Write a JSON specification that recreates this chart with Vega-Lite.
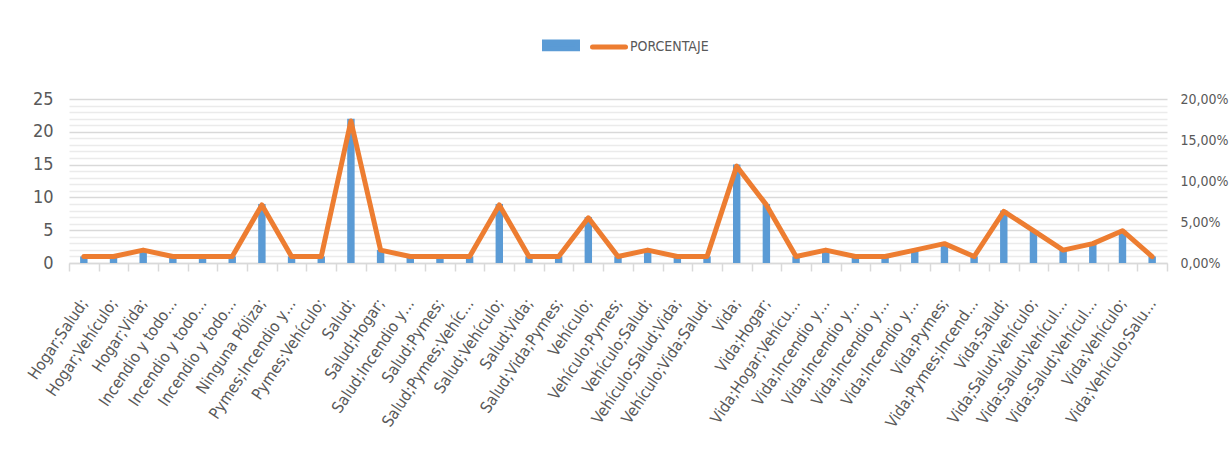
{
  "$schema": "https://vega.github.io/schema/vega-lite/v6.json",
  "width": 1098,
  "height": 164,
  "autosize": {"type": "none"},
  "padding": {"left": 69, "top": 99, "right": 63, "bottom": 190},
  "background": "white",
  "config": {
    "font": "'Liberation Sans Narrow', 'DejaVu Sans Condensed', Roboto, sans-serif",
    "view": {"stroke": null},
    "axis": {"labelFont": "'Liberation Sans Narrow', 'DejaVu Sans Condensed', Roboto, sans-serif", "labelColor": "#595959", "title": null}
  },
  "data": {
    "values": [
      {"categoria": "Hogar;Salud;", "cantidad": 1, "porcentaje": 0.00787},
      {"categoria": "Hogar;Vehículo;", "cantidad": 1, "porcentaje": 0.00787},
      {"categoria": "Hogar;Vida;", "cantidad": 2, "porcentaje": 0.01575},
      {"categoria": "Incendio y todo…", "cantidad": 1, "porcentaje": 0.00787},
      {"categoria": "Incendio y todo…\u200b", "cantidad": 1, "porcentaje": 0.00787},
      {"categoria": "Incendio y todo…\u200b\u200b", "cantidad": 1, "porcentaje": 0.00787},
      {"categoria": "Ninguna Póliza;", "cantidad": 9, "porcentaje": 0.07087},
      {"categoria": "Pymes;Incendio y…", "cantidad": 1, "porcentaje": 0.00787},
      {"categoria": "Pymes;Vehículo;", "cantidad": 1, "porcentaje": 0.00787},
      {"categoria": "Salud;", "cantidad": 22, "porcentaje": 0.17323},
      {"categoria": "Salud;Hogar;", "cantidad": 2, "porcentaje": 0.01575},
      {"categoria": "Salud;Incendio y…", "cantidad": 1, "porcentaje": 0.00787},
      {"categoria": "Salud;Pymes;", "cantidad": 1, "porcentaje": 0.00787},
      {"categoria": "Salud;Pymes;Vehíc…", "cantidad": 1, "porcentaje": 0.00787},
      {"categoria": "Salud;Vehículo;", "cantidad": 9, "porcentaje": 0.07087},
      {"categoria": "Salud;Vida;", "cantidad": 1, "porcentaje": 0.00787},
      {"categoria": "Salud;Vida;Pymes;", "cantidad": 1, "porcentaje": 0.00787},
      {"categoria": "Vehículo;", "cantidad": 7, "porcentaje": 0.05512},
      {"categoria": "Vehículo;Pymes;", "cantidad": 1, "porcentaje": 0.00787},
      {"categoria": "Vehículo;Salud;", "cantidad": 2, "porcentaje": 0.01575},
      {"categoria": "Vehículo;Salud;Vida;", "cantidad": 1, "porcentaje": 0.00787},
      {"categoria": "Vehículo;Vida;Salud;", "cantidad": 1, "porcentaje": 0.00787},
      {"categoria": "Vida;", "cantidad": 15, "porcentaje": 0.11811},
      {"categoria": "Vida;Hogar;", "cantidad": 9, "porcentaje": 0.07087},
      {"categoria": "Vida;Hogar;Vehícu…", "cantidad": 1, "porcentaje": 0.00787},
      {"categoria": "Vida;Incendio y…", "cantidad": 2, "porcentaje": 0.01575},
      {"categoria": "Vida;Incendio y…\u200b", "cantidad": 1, "porcentaje": 0.00787},
      {"categoria": "Vida;Incendio y…\u200b\u200b", "cantidad": 1, "porcentaje": 0.00787},
      {"categoria": "Vida;Incendio y…\u200b\u200b\u200b", "cantidad": 2, "porcentaje": 0.01575},
      {"categoria": "Vida;Pymes;", "cantidad": 3, "porcentaje": 0.02362},
      {"categoria": "Vida;Pymes;Incend…", "cantidad": 1, "porcentaje": 0.00787},
      {"categoria": "Vida;Salud;", "cantidad": 8, "porcentaje": 0.06299},
      {"categoria": "Vida;Salud;Vehículo;", "cantidad": 5, "porcentaje": 0.03937},
      {"categoria": "Vida;Salud;Vehícul…", "cantidad": 2, "porcentaje": 0.01575},
      {"categoria": "Vida;Salud;Vehícul…\u200b", "cantidad": 3, "porcentaje": 0.02362},
      {"categoria": "Vida;Vehículo;", "cantidad": 5, "porcentaje": 0.03937},
      {"categoria": "Vida;Vehículo;Salu…", "cantidad": 1, "porcentaje": 0.00787}
    ]
  },
  "encoding": {
    "x": {
      "field": "categoria",
      "type": "nominal",
      "sort": null,
      "scale": {"paddingInner": 0, "paddingOuter": 0},
      "axis": {
        "labelAngle": -56,
        "labelAlign": "right",
        "labelBaseline": "middle",
        "labelFontSize": 16,
        "labelPadding": 29,
        "labelLimit": 400,
        "labelOverlap": false,
        "domainColor": "#d9d9d9",
        "domainWidth": 1.5,
        "tickColor": "#d9d9d9",
        "tickWidth": 1.5,
        "tickSize": 8,
        "tickBand": "extent",
        "grid": false
      }
    }
  },
  "layer": [
    {
      "mark": {"type": "bar", "width": {"band": 0.25}},
      "encoding": {
        "y": {
          "field": "cantidad",
          "type": "quantitative",
          "scale": {"domain": [0, 25], "nice": false},
          "axis": {
            "orient": "left",
            "values": [0, 1, 2, 3, 4, 5, 6, 7, 8, 9, 10, 11, 12, 13, 14, 15, 16, 17, 18, 19, 20, 21, 22, 23, 24, 25],
            "labelExpr": "datum.value % 5 === 0 ? datum.label : ''",
            "labelOverlap": false,
            "labelFontSize": 18,
            "labelPadding": 16,
            "domain": false,
            "ticks": false,
            "grid": true,
            "gridWidth": 1.5,
            "gridColor": {"condition": {"test": "datum.value % 5 === 0", "value": "#d9d9d9"}, "value": "#ebebeb"}
          }
        },
        "color": {
          "datum": " ",
          "scale": {"domain": [" ", "PORCENTAJE"], "range": ["#5b9bd5", "#ed7d31"]},
          "legend": {
            "orient": "none",
            "legendX": 473,
            "legendY": -73,
            "direction": "horizontal",
            "title": null,
            "labelFontSize": 14,
            "labelColor": "#595959",
            "labelFont": "'Liberation Sans Narrow', 'DejaVu Sans Condensed', Roboto, sans-serif",
            "symbolSize": 1089,
            "labelOffset": 2,
            "columnPadding": -6,
            "encode": {
              "symbols": {
                "update": {
                  "shape": {"signal": "datum.value === 'PORCENTAJE' ? 'stroke' : 'M-1,-0.2H1V0.2H-1Z'"},
                  "fill": {"signal": "datum.value === 'PORCENTAJE' ? 'transparent' : '#5b9bd5'"},
                  "stroke": {"signal": "datum.value === 'PORCENTAJE' ? '#ed7d31' : 'transparent'"},
                  "strokeWidth": {"value": 5},
                  "strokeCap": {"value": "round"},
                  "opacity": {"value": 1}
                }
              }
            }
          }
        }
      }
    },
    {
      "mark": {"type": "line", "strokeWidth": 5, "strokeJoin": "round", "strokeCap": "round"},
      "encoding": {
        "y": {
          "field": "porcentaje",
          "type": "quantitative",
          "scale": {"domain": [0, 0.2], "nice": false},
          "axis": {
            "orient": "right",
            "values": [0, 0.05, 0.1, 0.15, 0.2],
            "labelExpr": "replace(format(datum.value, '.2%'), '.', ',')",
            "labelOverlap": false,
            "labelFontSize": 14,
            "labelPadding": 13,
            "domain": false,
            "ticks": false,
            "grid": false
          }
        },
        "color": {"datum": "PORCENTAJE"}
      }
    }
  ],
  "resolve": {"scale": {"y": "independent"}}
}
